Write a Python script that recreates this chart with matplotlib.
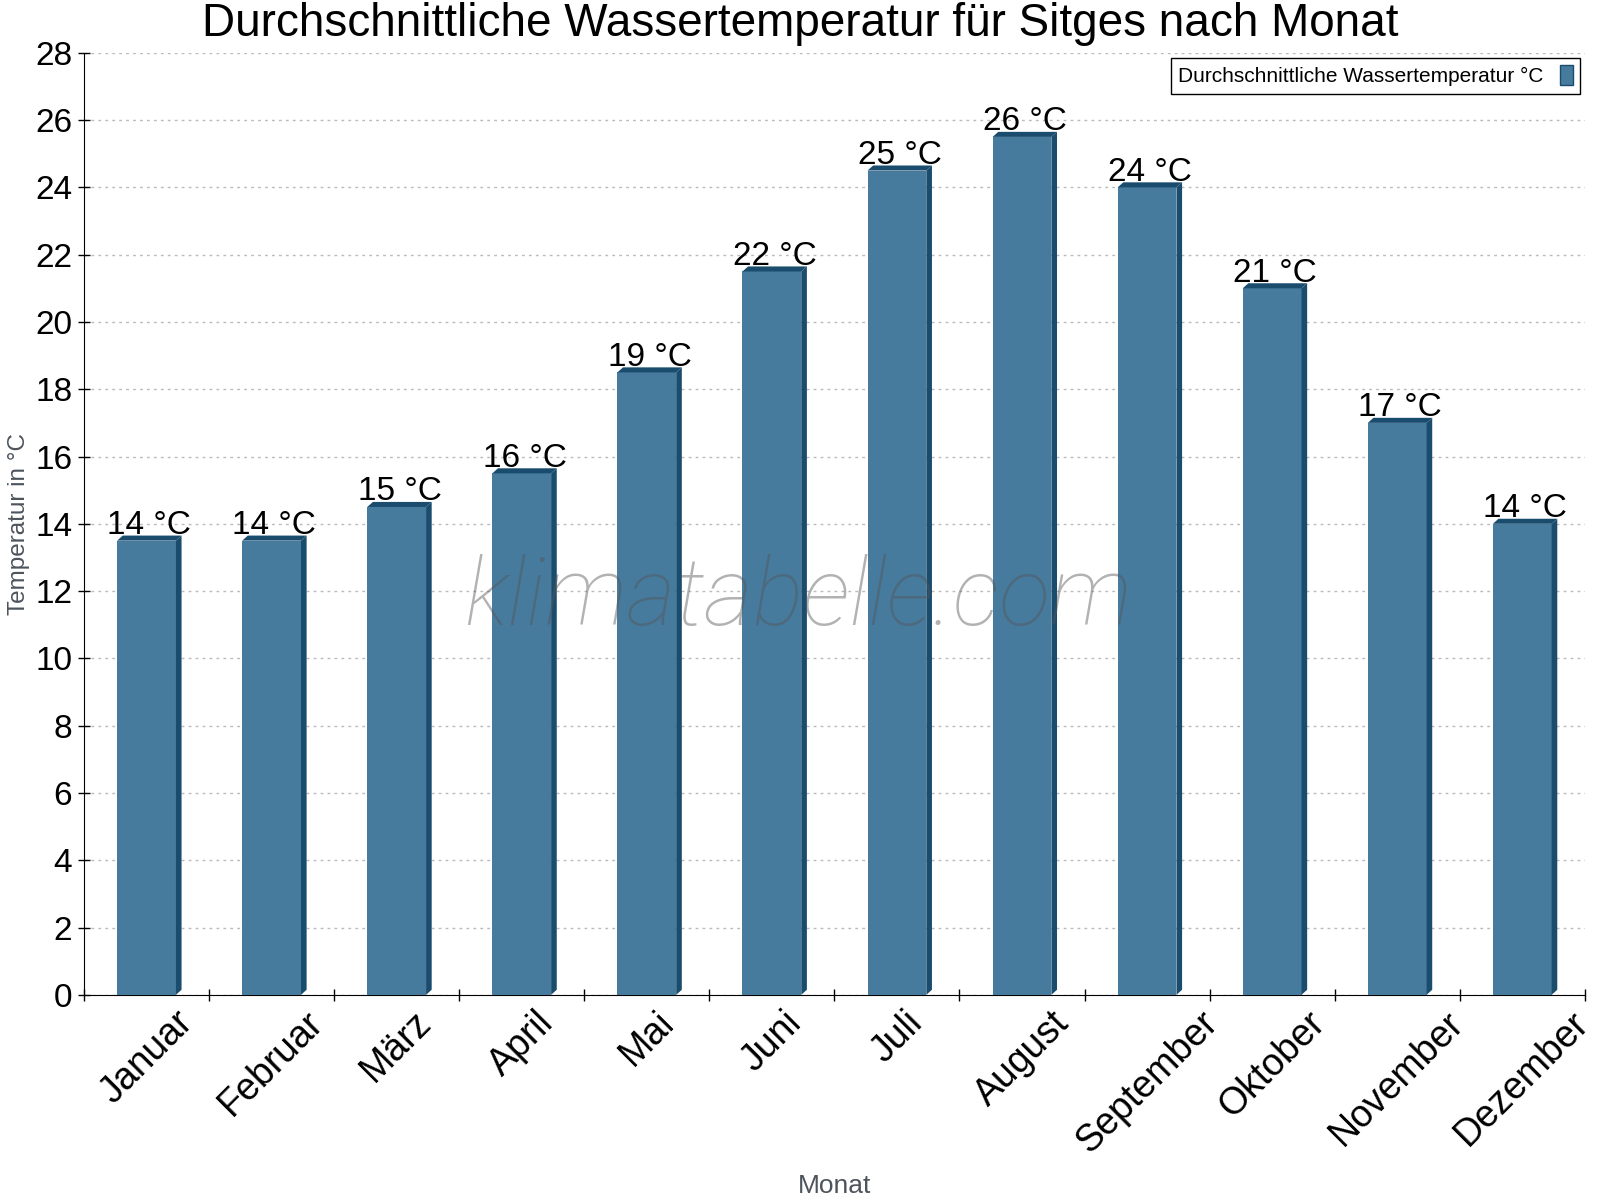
import matplotlib.pyplot as plt
from matplotlib.patches import Polygon, Patch
import numpy as np

plt.rcParams['font.family'] = ['Liberation Sans', 'DejaVu Sans']

# data
months = ["Januar", "Februar", "März", "April", "Mai", "Juni",
          "Juli", "August", "September", "Oktober", "November", "Dezember"]
water_temp = [13.5, 13.5, 14.5, 15.5, 18.5, 21.5, 24.5, 25.5, 24, 21, 17, 14]
yticks = list(range(0, 29, 2))

front = '#467b9e'
dark = '#1a4c6e'
w = 0.47      # bar width
dx = 0.045    # 3d depth (x, category units)
dy = 0.15     # 3d depth (y, data units)

fig = plt.figure(figsize=(16, 12), dpi=100)
ax = fig.add_axes([0.0525, 0.171, 0.938, 0.785])

x = np.arange(len(months))
ax.bar(x, water_temp, width=w, color=front, zorder=3)
for xi, v in zip(x, water_temp):
    x0, x1 = xi - w / 2, xi + w / 2
    side = Polygon([(x1, 0), (x1, v), (x1 + dx, v + dy), (x1 + dx, dy)],
                   closed=True, facecolor=dark, edgecolor='none', zorder=3)
    top = Polygon([(x0, v), (x1, v), (x1 + dx, v + dy), (x0 + dx, v + dy)],
                  closed=True, facecolor=dark, edgecolor='none', zorder=3)
    ax.add_patch(side)
    ax.add_patch(top)
    ax.text(xi + dx / 2, v + dy + 0.05, f"{int(v + 0.5)} °C", ha='center',
            va='baseline', fontsize=24, zorder=5)

ax.set_xlim(-0.5, 11.5)
ax.set_ylim(0, 28)
ax.set_yticks(yticks)
ax.yaxis.grid(True, linestyle=(0, (2, 3)), color='#bbbbbb', lw=1, zorder=0)
ax.set_axisbelow(True)
for s in ['top', 'right']:
    ax.spines[s].set_visible(False)

ax.tick_params(axis='y', direction='inout', length=9, width=1, labelsize=24, pad=4)
ax.set_xticks(x)
ax.set_xticks(np.arange(-0.5, 12, 1), minor=True)
ax.tick_params(axis='x', which='major', length=0, labelsize=27, pad=7)
ax.tick_params(axis='x', which='minor', direction='inout', length=9, width=1)
ax.set_xticklabels(months, rotation=45, ha='center')

ax.set_ylabel("Temperatur in °C", fontsize=17.5, color='#4d545c')
ax.yaxis.set_label_coords(-0.036, 0.5)
ax.set_xlabel("Monat", fontsize=19, color='#4d545c')
ax.xaxis.set_label_coords(0.5, -0.19)

fig.text(0.5, 1 - 36 / 1200, "Durchschnittliche Wassertemperatur für Sitges nach Monat",
         ha='center', va='baseline', fontsize=33)

ax.text(0.476, 0.42, "klimatabelle.com", transform=ax.transAxes, ha='center',
        va='center', fontsize=68, family='Roboto', weight='light', style='italic',
        color='#555555', alpha=0.45, zorder=6)

handle = Patch(facecolor=front, edgecolor=dark, lw=1)
leg = ax.legend([handle], ["Durchschnittliche Wassertemperatur °C"], loc='upper right',
                bbox_to_anchor=(1580 / 1600, 1 - 58 / 1200), bbox_transform=fig.transFigure,
                borderaxespad=0, fontsize=15, markerfirst=False, fancybox=False,
                framealpha=1, edgecolor='black', handlelength=0.6, handleheight=1.1,
                borderpad=0.35)
leg.get_frame().set_linewidth(1)

plt.savefig('out.png', dpi=100)
